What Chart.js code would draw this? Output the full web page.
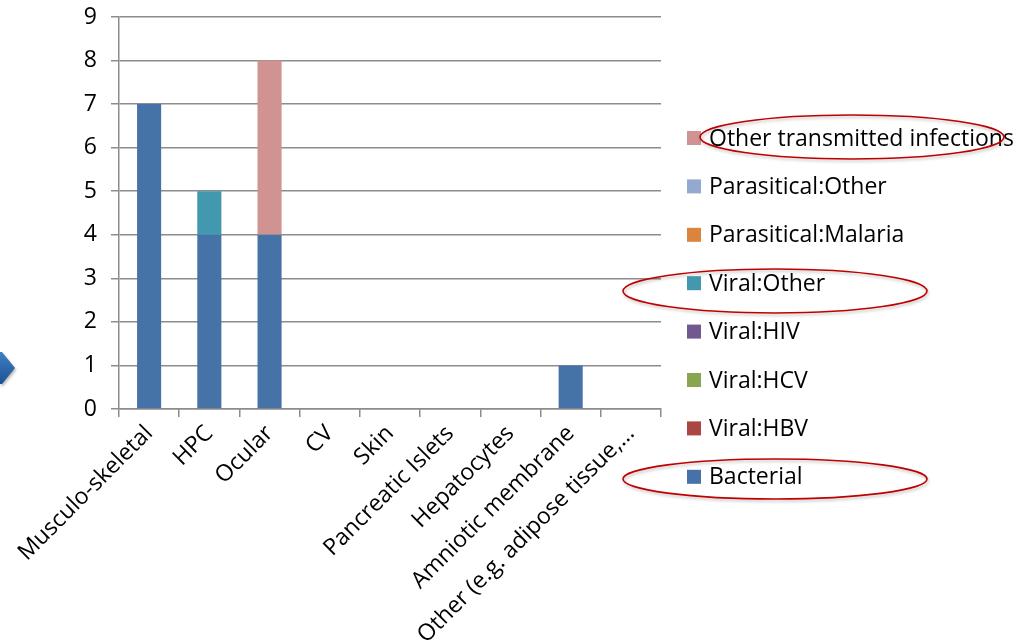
<!DOCTYPE html>
<html>
<head>
<meta charset="utf-8">
<script src="https://cdn.jsdelivr.net/npm/chart.js@4/dist/chart.umd.min.js"></script>
<style>
  html, body { margin: 0; padding: 0; background: #fff; }
  #wrap { width: 1023px; height: 644px; position: relative; }
</style>
</head>
<body>
<div id="wrap"><canvas id="chart"></canvas></div>
<script>
// categories on the x axis
const categories = ["Musculo-skeletal", "HPC", "Ocular", "CV", "Skin", "Pancreatic Islets",
  "Hepatocytes", "Amniotic membrane", "Other (e.g. adipose tissue,…"];

// series values (stacked)
const bacterial      = [7, 4, 4, 0, 0, 0, 0, 1, 0];
const viralHBV       = [0, 0, 0, 0, 0, 0, 0, 0, 0];
const viralHCV       = [0, 0, 0, 0, 0, 0, 0, 0, 0];
const viralHIV       = [0, 0, 0, 0, 0, 0, 0, 0, 0];
const viralOther     = [0, 1, 0, 0, 0, 0, 0, 0, 0];
const parasMalaria   = [0, 0, 0, 0, 0, 0, 0, 0, 0];
const parasOther     = [0, 0, 0, 0, 0, 0, 0, 0, 0];
const otherInfection = [0, 0, 4, 0, 0, 0, 0, 0, 0];

const yTicks = [0, 1, 2, 3, 4, 5, 6, 7, 8, 9];

const FONT = "'Open Sans', sans-serif";
const FONT_SIZE = 23;
const GRID = "#8c8c8c";

function ds(label, data, color) {
  return { label, data, backgroundColor: color, borderWidth: 0, barPercentage: 0.4, categoryPercentage: 1 };
}

// legend on the right, red ellipses and the blue arrow
const overlay = {
  id: "overlay",
  afterDraw(chart) {
    const ctx = chart.ctx;
    ctx.save();

    // legend, top item is the last series
    const sets = chart.data.datasets.slice().reverse();
    ctx.font = FONT_SIZE + "px " + FONT;
    ctx.textBaseline = "middle";
    ctx.textAlign = "left";
    sets.forEach((d, i) => {
      const y = 138 + i * 48.4;
      ctx.fillStyle = d.backgroundColor;
      ctx.fillRect(687, y - 7, 14, 14);
      ctx.fillStyle = "#000";
      ctx.fillText(d.label, 709, y + 1);
    });

    // arrow on the left edge
    const g = ctx.createLinearGradient(0, 352, 0, 384);
    g.addColorStop(0, "#3f7fc4");
    g.addColorStop(1, "#1a5294");
    ctx.fillStyle = g;
    ctx.shadowColor = "rgba(0,0,0,0.3)";
    ctx.shadowBlur = 3;
    ctx.shadowOffsetX = 1;
    ctx.shadowOffsetY = 2;
    ctx.beginPath();
    ctx.moveTo(0, 352);
    ctx.lineTo(2, 352);
    ctx.lineTo(15, 368);
    ctx.lineTo(2, 384);
    ctx.lineTo(0, 384);
    ctx.closePath();
    ctx.fill();

    // ellipses
    ctx.shadowColor = "rgba(0,0,0,0.25)";
    ctx.strokeStyle = "#c00000";
    ctx.lineWidth = 1.6;
    [[852, 137, 152, 22], [775, 291, 152, 22], [775, 479, 152, 20]].forEach(e => {
      ctx.beginPath();
      ctx.ellipse(e[0], e[1], e[2], e[3], 0, 0, Math.PI * 2);
      ctx.stroke();
    });
    ctx.restore();
  }
};

new Chart(document.getElementById("chart"), {
  type: "bar",
  data: {
    labels: categories,
    datasets: [
      ds("Bacterial", bacterial, "#4572A7"),
      ds("Viral:HBV", viralHBV, "#AA4643"),
      ds("Viral:HCV", viralHCV, "#89A54E"),
      ds("Viral:HIV", viralHIV, "#71588F"),
      ds("Viral:Other", viralOther, "#4198AF"),
      ds("Parasitical:Malaria", parasMalaria, "#DB843D"),
      ds("Parasitical:Other", parasOther, "#93A9CF"),
      ds("Other transmitted infections", otherInfection, "#D19392")
    ]
  },
  options: {
    responsive: true,
    maintainAspectRatio: false,
    animation: false,
    layout: { padding: { left: 0, top: 17, right: 362, bottom: 0 } },
    plugins: {
      tooltip: { enabled: false },
      legend: { display: false }
    },
    scales: {
      x: {
        stacked: true,
        afterFit: axis => { axis.height = 644 - 409; axis.paddingLeft = 0; axis.paddingRight = 0; },
        grid: { display: true, drawOnChartArea: false, offset: true, color: GRID, tickLength: 8, lineWidth: 1.5 },
        border: { color: GRID, width: 1.5 },
        ticks: {
          autoSkip: false, maxRotation: 45, minRotation: 45, color: "#000",
          font: { family: FONT, size: FONT_SIZE }, padding: 3
        }
      },
      y: {
        stacked: true,
        min: 0, max: 9,
        afterBuildTicks: axis => { axis.ticks = yTicks.map(v => ({ value: v })); },
        afterFit: axis => { axis.width = 119; axis.paddingTop = 0; axis.paddingBottom = 0; },
        grid: { color: GRID, tickLength: 8, lineWidth: 1.5 },
        border: { color: GRID, width: 1.5 },
        ticks: { color: "#000", font: { family: FONT, size: FONT_SIZE }, padding: 14 }
      }
    }
  },
  plugins: [overlay]
});
</script>
</body>
</html>
